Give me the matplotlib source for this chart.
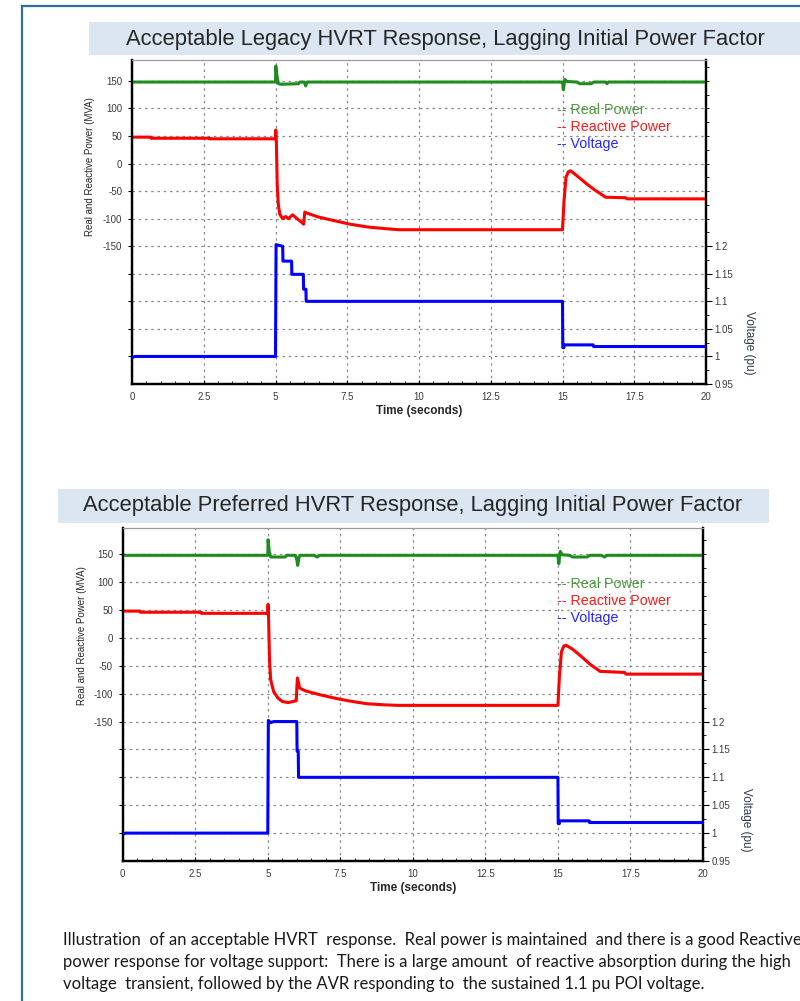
import matplotlib
matplotlib.use("Agg")
import matplotlib.pyplot as plt
from matplotlib.patches import Rectangle
from matplotlib.lines import Line2D
from matplotlib.ticker import MultipleLocator, FixedLocator

plt.rcParams["font.family"] = ["Liberation Sans", "DejaVu Sans"]

W, H = 800, 1001

# ---- data: legacy response (top chart) ----
LEG_P_T = [0, 5.0, 5.01, 5.05, 5.1, 5.2, 5.8, 5.85, 6.0, 6.05, 6.1, 6.15,
           15.0, 15.03, 15.08, 15.15, 15.5, 15.6, 16.0, 16.1, 16.5, 16.55, 16.6, 20]
LEG_P_V = [148, 148, 177, 160, 145, 144, 145, 148, 148, 141, 148, 148,
           148, 134, 153, 149, 148, 145, 145, 148, 148, 145, 148, 148]

LEG_Q_T = [0, 0.65, 0.66, 2.7, 2.71, 5.0, 5.01, 5.03, 5.06, 5.1, 5.15, 5.25, 5.35,
           5.45, 5.55, 5.6, 5.75, 5.9, 5.98, 6.02, 6.1, 6.5, 7.0, 7.6, 8.2, 8.8,
           9.3, 15.0, 15.05, 15.12, 15.2, 15.28, 15.5, 15.8, 16.1, 16.5, 17.2,
           17.25, 20]
LEG_Q_V = [48, 48, 46, 46, 45, 45, 61, 40, -40, -75, -92, -100, -96,
           -100, -95, -93, -100, -106, -110, -88, -90, -97, -103, -110, -115, -118,
           -120, -120, -70, -25, -15, -13, -22, -35, -47, -61, -62,
           -64, -64]

LEG_V_T = [0, 0.1, 5.0, 5.02, 5.25, 5.26, 5.56, 5.57, 5.97, 5.98, 6.06, 6.07,
           15.0, 15.01, 15.05, 15.06, 16.07, 16.08, 20]
LEG_V_V = [0.998, 1.0, 1.0, 1.203, 1.2, 1.173, 1.173, 1.149, 1.149, 1.122, 1.122, 1.1,
           1.1, 1.016, 1.016, 1.021, 1.021, 1.018, 1.018]

# ---- data: preferred response (bottom chart) ----
PRF_P_T = [0, 5.0, 5.01, 5.05, 5.1, 5.6, 5.65, 5.95, 6.0, 6.03, 6.08, 6.12, 6.6,
           6.7, 6.8, 15.0, 15.03, 15.08, 15.15, 15.4, 15.5, 16.0, 16.1, 16.5,
           16.6, 16.7, 20]
PRF_P_V = [148, 148, 176, 155, 145, 145, 148, 148, 140, 130, 145, 148, 148,
           145, 148, 148, 133, 155, 149, 148, 145, 145, 148, 148,
           145, 148, 148]

PRF_Q_T = [0, 0.6, 0.61, 2.7, 2.71, 5.0, 5.01, 5.03, 5.06, 5.1, 5.2, 5.35, 5.5,
           5.7, 5.95, 5.98, 6.02, 6.1, 6.3, 6.8, 7.3, 7.8, 8.4, 9.0, 9.5, 15.0,
           15.05, 15.12, 15.2, 15.27, 15.5, 15.8, 16.1, 16.45, 17.3, 17.35, 20]
PRF_Q_V = [48, 48, 46, 46, 44, 44, 60, 30, -40, -75, -96, -108, -114,
           -116, -113, -113, -72, -90, -95, -102, -108, -113, -118, -120, -121, -121,
           -70, -25, -15, -13, -20, -33, -47, -60, -62, -65, -65]

PRF_V_T = [0, 0.1, 5.0, 5.02, 5.1, 5.2, 6.0, 6.01, 6.05, 6.06, 15.0, 15.01,
           15.05, 15.06, 16.08, 16.09, 20]
PRF_V_V = [0.998, 1.0, 1.0, 1.202, 1.198, 1.2, 1.2, 1.147, 1.147, 1.1, 1.1, 1.017,
           1.017, 1.022, 1.022, 1.019, 1.019]

P_TICKS = [-150, -100, -50, 0, 50, 100, 150]
P_GRID = [-350, -300, -250, -200, -150, -100, -50, 0, 50, 100, 150]
V_TICKS = [0.95, 1.0, 1.05, 1.1, 1.15, 1.2]
V_TICK_LABELS = ["0.95", "1", "1.05", "1.1", "1.15", "1.2"]
X_TICKS = [0, 2.5, 5, 7.5, 10, 12.5, 15, 17.5, 20]
X_TICK_LABELS = ["0", "2.5", "5", "7.5", "10", "12.5", "15", "17.5", "20"]
LEGEND_LABELS = ["-- Real Power", "-- Reactive Power", "-- Voltage"]

TITLES = ["Acceptable Legacy HVRT Response, Lagging Initial Power Factor",
          "Acceptable Preferred HVRT Response, Lagging Initial Power Factor"]
CAPTION = [
    "Illustration  of an acceptable HVRT  response.  Real power is maintained  and there is a good Reactive",
    "power response for voltage support:  There is a large amount  of reactive absorption during the high",
    "voltage  transient, followed by the AVR responding to  the sustained 1.1 pu POI voltage.",
]

GREEN, RED, BLUE = "#1e8c1e", "#ff0000", "#0000ff"
LEG_COLORS = ["#4e9a3e", "#ff1a1a", "#2626ff"]
TICK_C = "#3a3a3a"


def fx(x):
    return x / W


def fy(y):
    return 1 - y / H


fig = plt.figure(figsize=(W / 100, H / 100), dpi=100)

# document frame
fig.add_artist(Line2D([fx(22), fx(22)], [fy(6), 0], color="#2f6e9c", lw=1.6))
fig.add_artist(Line2D([fx(22), 1], [fy(6), fy(6)], color="#2f6e9c", lw=1.6))

charts = [
    dict(ax=(132, 60, 706, 384), tbox=(89, 22, 812, 55), tc=(445, 39),
         ptop=188, leg=(557, 110), ylab=(90, 167), vlab=(749, 343),
         data=(LEG_P_T, LEG_P_V, LEG_Q_T, LEG_Q_V, LEG_V_T, LEG_V_V)),
    dict(ax=(122.7, 528, 703, 861), tbox=(58, 489, 769, 523), tc=(413, 506),
         ptop=197, leg=(557, 584), ylab=(82, 636), vlab=(746, 820),
         data=(PRF_P_T, PRF_P_V, PRF_Q_T, PRF_Q_V, PRF_V_T, PRF_V_V)),
]

for title, c in zip(TITLES, charts):
    x0, y0, x1, y1 = c["tbox"]
    fig.add_artist(Rectangle((fx(x0), fy(y1)), fx(x1 - x0), (y1 - y0) / H,
                             transform=fig.transFigure, facecolor="#dce6f2",
                             edgecolor="none", zorder=0))
    fig.text(fx(c["tc"][0]), fy(c["tc"][1]), title, ha="center", va="center",
             fontsize=15.8, color="#262626")

    l, t, r, b = c["ax"]
    ax = fig.add_axes([fx(l), fy(b), fx(r - l), (b - t) / H])
    pt, pv, qt, qv, vt, vv = c["data"]

    plow = -400
    ax.set_ylim(plow, c["ptop"])
    ax.set_xlim(0, 20)
    ax.plot(pt, pv, color=GREEN, lw=2.2, zorder=3)
    ax.plot(qt, qv, color=RED, lw=2.2, zorder=3)

    ax2 = ax.twinx()
    # right axis shares the grid: 50 MVA per 0.05 pu, 0.95 pu at the bottom
    ax2.set_ylim(0.95, 0.95 + (c["ptop"] - plow) / 1000)
    ax2.plot(vt, vv, color=BLUE, lw=2.2, zorder=3)

    ax.set_yticks(P_GRID)
    ax.set_yticklabels([str(v) if v in P_TICKS else "" for v in P_GRID])
    ax.set_xticks(X_TICKS)
    ax.set_xticklabels(X_TICK_LABELS)
    ax.xaxis.set_minor_locator(MultipleLocator(0.5))
    ax.grid(True, which="major", color="#8a8a8a", lw=0.9, linestyle=(0, (2, 3)))
    ax.tick_params(axis="y", which="major", direction="out", length=3, width=0.8,
                   labelsize=7, labelcolor=TICK_C, pad=4)
    ax.tick_params(axis="x", which="major", direction="in", length=3, width=0.8,
                   labelsize=7, labelcolor=TICK_C, pad=6)
    ax.tick_params(axis="x", which="minor", direction="in", length=2, width=0.6)

    ax2.yaxis.set_major_locator(FixedLocator(V_TICKS))
    ax2.set_yticklabels(V_TICK_LABELS)
    ax2.yaxis.set_minor_locator(MultipleLocator(0.025))
    ax2.tick_params(axis="y", which="major", direction="out", length=4, width=0.8,
                    labelsize=7, labelcolor=TICK_C, pad=2)
    ax2.tick_params(axis="y", which="minor", direction="out", length=2.5, width=0.6)

    for a in (ax, ax2):
        a.spines["top"].set_color("#9a9a9a")
        a.spines["top"].set_linewidth(0.8)
        for s in ("left", "bottom", "right"):
            a.spines[s].set_linewidth(1.6)
            a.spines[s].set_color("black")

    ax.set_xlabel("Time (seconds)", fontsize=8.5, fontweight="bold",
                  color="#262626", labelpad=2)
    fig.text(fx(c["ylab"][0]), fy(c["ylab"][1]), "Real and Reactive Power (MVA)",
             rotation=90, ha="center", va="center", fontsize=7, color="#262626")
    fig.text(fx(c["vlab"][0]), fy(c["vlab"][1]), "Voltage (pu)", rotation=270,
             ha="center", va="center", fontsize=8.5, color="#2e3a52")

    lx, ly = c["leg"]
    for i, (lab, col) in enumerate(zip(LEGEND_LABELS, LEG_COLORS)):
        fig.text(fx(lx), fy(ly + i * 17), lab, ha="left", va="center",
                 fontsize=10.3, color=col)

for i, line in enumerate(CAPTION):
    fig.text(fx(63), fy(940 + i * 22), line, ha="left", va="center",
             fontsize=12.0, color="#1a1a1a", family=["Lato", "DejaVu Sans"])

fig.savefig("out.png", dpi=100)
